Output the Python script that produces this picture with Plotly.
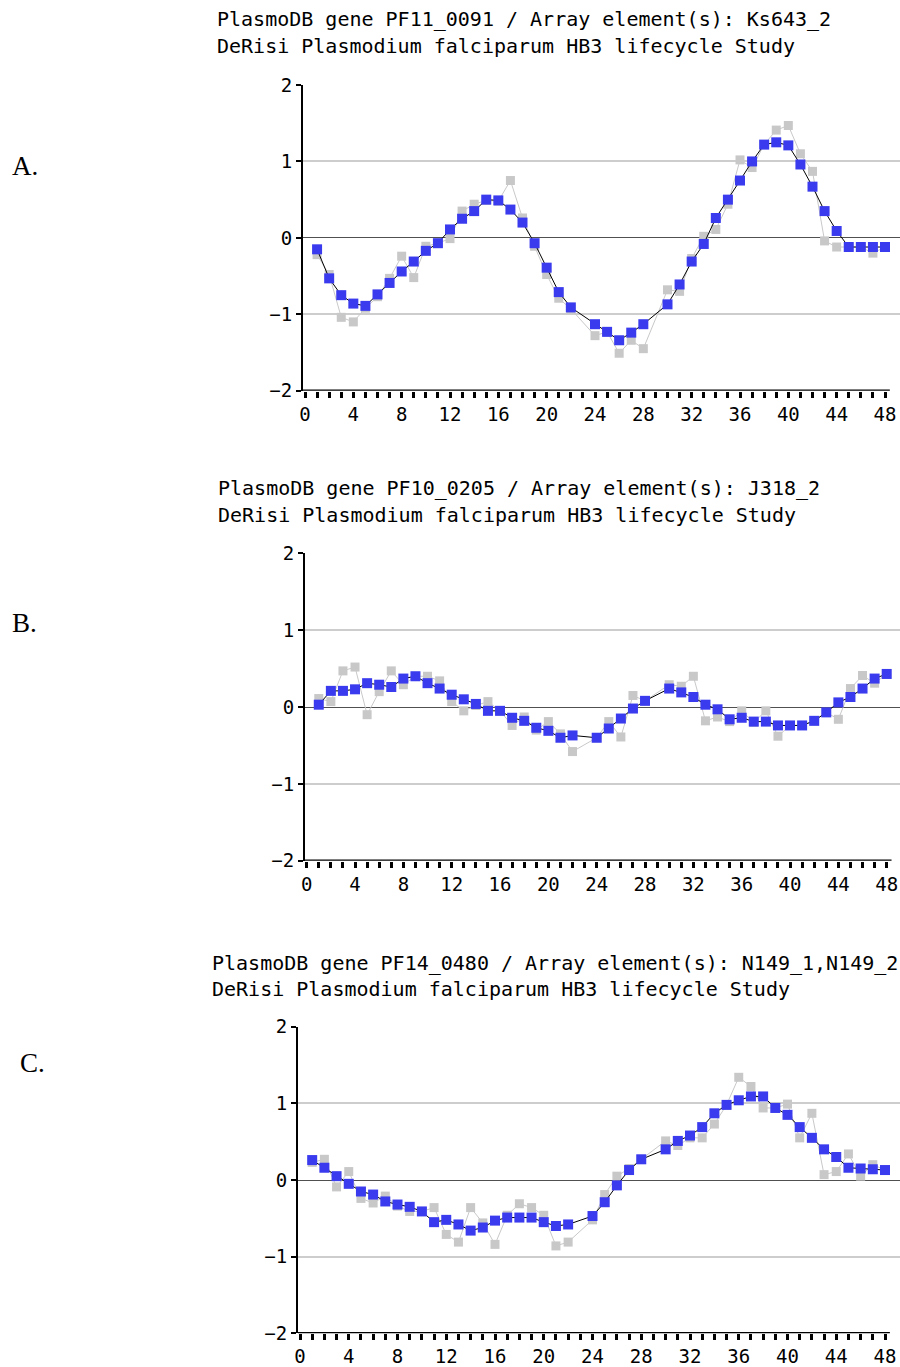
import plotly.graph_objects as go

hours = [1, 2, 3, 4, 5, 6, 7, 8, 9, 10, 11, 12, 13, 14, 15, 16, 17, 18, 19, 20, 21, 22,
         24, 25, 26, 27, 28, 30, 31, 32, 33, 34, 35, 36, 37, 38, 39, 40, 41, 42, 43, 44,
         45, 46, 47, 48]

a_smooth = [-0.15, -0.53, -0.75, -0.86, -0.89, -0.74, -0.59, -0.44, -0.31, -0.17, -0.07, 0.11,
            0.25, 0.35, 0.50, 0.49, 0.37, 0.20, -0.07, -0.39, -0.71, -0.91,
            -1.13, -1.23, -1.34, -1.24, -1.13, -0.87, -0.61, -0.31, -0.08, 0.26, 0.50, 0.75,
            1.00, 1.22, 1.25, 1.21, 0.96, 0.67, 0.35, 0.09, -0.12, -0.12, -0.12, -0.12]
a_raw = [-0.22, -0.48, -1.04, -1.10, -0.92, -0.77, -0.53, -0.24, -0.52, -0.11, -0.07, -0.01,
         0.35, 0.44, 0.49, 0.48, 0.75, 0.26, -0.11, -0.48, -0.79, -0.93,
         -1.28, -1.23, -1.51, -1.34, -1.45, -0.68, -0.70, -0.27, 0.02, 0.11, 0.44, 1.02,
         0.92, 1.22, 1.41, 1.47, 1.10, 0.87, -0.04, -0.12, -0.12, -0.12, -0.20, -0.12]

b_smooth = [0.03, 0.21, 0.21, 0.23, 0.31, 0.29, 0.26, 0.37, 0.40, 0.31, 0.24, 0.16,
            0.10, 0.04, -0.05, -0.05, -0.14, -0.18, -0.27, -0.31, -0.40, -0.37,
            -0.40, -0.28, -0.15, -0.02, 0.08, 0.24, 0.19, 0.13, 0.03, -0.03, -0.16, -0.14,
            -0.19, -0.19, -0.24, -0.24, -0.24, -0.18, -0.07, 0.06, 0.13, 0.24, 0.37, 0.43]
b_raw = [0.11, 0.07, 0.47, 0.52, -0.10, 0.20, 0.47, 0.29, 0.40, 0.40, 0.34, 0.07,
         -0.05, 0.02, 0.07, -0.05, -0.24, -0.13, -0.30, -0.19, -0.35, -0.58,
         -0.40, -0.19, -0.39, 0.15, 0.08, 0.29, 0.27, 0.40, -0.18, -0.13, -0.19, -0.05,
         -0.20, -0.05, -0.38, -0.24, -0.24, -0.18, -0.07, -0.16, 0.24, 0.41, 0.31, 0.43]

c_smooth = [0.26, 0.16, 0.05, -0.05, -0.15, -0.19, -0.28, -0.32, -0.35, -0.41, -0.55, -0.52,
            -0.58, -0.66, -0.62, -0.53, -0.49, -0.49, -0.49, -0.55, -0.60, -0.58,
            -0.47, -0.29, -0.07, 0.13, 0.27, 0.40, 0.51, 0.58, 0.69, 0.87, 0.98, 1.04,
            1.09, 1.09, 0.94, 0.85, 0.69, 0.55, 0.40, 0.30, 0.16, 0.15, 0.14, 0.13]
c_raw = [0.23, 0.27, -0.09, 0.11, -0.24, -0.30, -0.21, -0.34, -0.41, -0.41, -0.36, -0.71,
         -0.81, -0.36, -0.56, -0.84, -0.46, -0.31, -0.36, -0.46, -0.86, -0.81,
         -0.52, -0.19, 0.05, 0.15, 0.27, 0.51, 0.45, 0.55, 0.55, 0.73, 0.98, 1.34,
         1.22, 0.94, 0.94, 0.99, 0.55, 0.87, 0.07, 0.11, 0.34, 0.05, 0.20, 0.13]

titles = [
    ["PlasmoDB gene PF11_0091 / Array element(s): Ks643_2",
     "DeRisi Plasmodium falciparum HB3 lifecycle Study"],
    ["PlasmoDB gene PF10_0205 / Array element(s): J318_2",
     "DeRisi Plasmodium falciparum HB3 lifecycle Study"],
    ["PlasmoDB gene PF14_0480 / Array element(s): N149_1,N149_2",
     "DeRisi Plasmodium falciparum HB3 lifecycle Study"],
]
panel_labels = ["A.", "B.", "C."]
x_ticks = list(range(0, 49, 4))
x_minor_ticks = list(range(0, 49))
y_ticks = [-2, -1, 0, 1, 2]

W, H = 900, 1367
# pixel geometry: (yaxis px, x0 px, x48 px, ytop px, ybot px, title x, title y1, title y2, label x, label y)
geo = [
    (303, 305.0, 885.0, 85.0, 390.7, 215, 19.0, 45.5, 10, 166),
    (305, 306.7, 886.7, 553.3, 860.7, 216, 488.0, 514.5, 10, 623),
    (298, 300.0, 885.0, 1026.7, 1333.3, 210, 962.5, 989.0, 18, 1063),
]
series = [(a_raw, a_smooth), (b_raw, b_smooth), (c_raw, c_smooth)]

MONO = "DejaVu Sans Mono"
BLUE = "rgb(58,58,238)"
GRAY = "rgb(200,200,200)"

fig = go.Figure()
layout = dict(width=W, height=H, autosize=False,
              margin=dict(l=0, r=0, t=0, b=0, pad=0, autoexpand=False),
              paper_bgcolor="white", plot_bgcolor="white", showlegend=False)
annotations = []
shapes = []

for i, (g, (raw, smooth)) in enumerate(zip(geo, series)):
    yax_px, x0p, x48p, ytop, ybot, tx, ty1, ty2, lx, ly = g
    s = (x48p - x0p) / 48.0
    xr = [(yax_px - x0p) / s, (W - x0p) / s]
    xa = "x" if i == 0 else f"x{i+1}"
    ya = "y" if i == 0 else f"y{i+1}"
    xkey = "xaxis" if i == 0 else f"xaxis{i+1}"
    ykey = "yaxis" if i == 0 else f"yaxis{i+1}"

    fig.add_trace(go.Scatter(x=hours, y=raw, xaxis=xa, yaxis=ya, mode="lines+markers",
                             line=dict(color=GRAY, width=1),
                             marker=dict(symbol="square", size=9, color=GRAY),
                             cliponaxis=False))
    fig.add_trace(go.Scatter(x=hours, y=smooth, xaxis=xa, yaxis=ya, mode="lines+markers",
                             line=dict(color="black", width=1),
                             marker=dict(symbol="square", size=10, color=BLUE),
                             cliponaxis=False))

    layout[xkey] = dict(domain=[yax_px / W, 1.0], range=xr, anchor=ya, automargin=False,
                        showgrid=False, zeroline=False, showline=False,
                        tickmode="array", tickvals=x_ticks, ticktext=[str(t) for t in x_ticks],
                        ticks="outside", ticklen=6, tickwidth=2.5, tickcolor="black",
                        minor=dict(tickmode="array", tickvals=x_minor_ticks, ticks="outside",
                                   ticklen=6, tickwidth=2.5, tickcolor="black", showgrid=False),
                        tickfont=dict(family=MONO, size=19, color="black"),
                        fixedrange=True)
    layout[ykey] = dict(domain=[1 - ybot / H, 1 - ytop / H], range=[-2, 2], anchor=xa,
                        automargin=False,
                        showline=True, linewidth=2, linecolor="black",
                        tickmode="array", tickvals=y_ticks,
                        ticktext=["\u22122", "\u22121", "0", "1", "2"],
                        ticks="outside", ticklen=5, tickwidth=2, tickcolor="black",
                        showgrid=True, gridcolor="rgb(205,205,205)", gridwidth=1.5,
                        zeroline=True, zerolinecolor="rgb(80,80,80)", zerolinewidth=1,
                        tickfont=dict(family=MONO, size=19, color="black"),
                        fixedrange=True)
    # bottom axis line ending just past hour 48
    shapes.append(dict(type="line", xref=xa, yref=ya, x0=xr[0], x1=48.4, y0=-2, y1=-2,
                       line=dict(color="black", width=2.5), layer="above"))

    for t, ty in zip(titles[i], (ty1, ty2)):
        annotations.append(dict(text=t, xref="paper", yref="paper", x=tx / W, y=1 - ty / H,
                                xanchor="left", yanchor="middle", showarrow=False,
                                font=dict(family=MONO, size=20, color="black")))
    annotations.append(dict(text=panel_labels[i], xref="paper", yref="paper", x=lx / W,
                            y=1 - ly / H, xanchor="left", yanchor="middle", showarrow=False,
                            font=dict(family="Liberation Serif", size=27, color="black")))

layout["annotations"] = annotations
layout["shapes"] = shapes
fig.update_layout(**layout)
fig.write_html("out.html", config={"displayModeBar": False, "responsive": False},
               post_script="document.body.style.margin='0';document.body.style.overflow='hidden';")
